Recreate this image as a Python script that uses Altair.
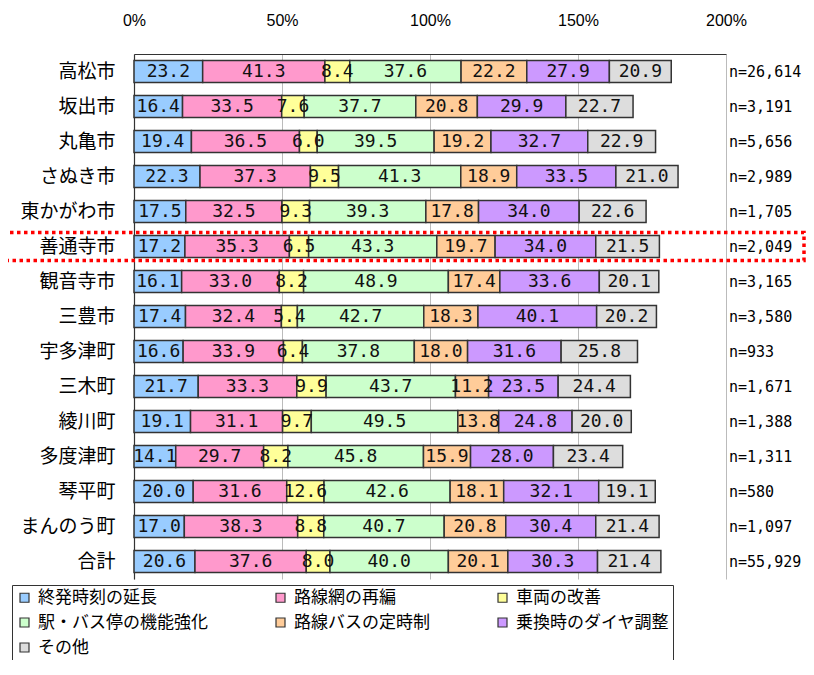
import altair as alt
import pandas as pd

areas = ["高松市", "坂出市", "丸亀市", "さぬき市", "東かがわ市", "善通寺市", "観音寺市",
         "三豊市", "宇多津町", "三木町", "綾川町", "多度津町", "琴平町", "まんのう町", "合計"]
n_labels = ["n=26,614", "n=3,191", "n=5,656", "n=2,989", "n=1,705", "n=2,049", "n=3,165",
            "n=3,580", "n=933", "n=1,671", "n=1,388", "n=1,311", "n=580", "n=1,097", "n=55,929"]
series = ["終発時刻の延長", "路線網の再編", "車両の改善", "駅・バス停の機能強化",
          "路線バスの定時制", "乗換時のダイヤ調整", "その他"]
colors = ["#99CCFF", "#FF99CC", "#FFFF99", "#CCFFCC", "#FFCC99", "#CC99FF", "#DDDDDD"]

v_end = [23.2, 16.4, 19.4, 22.3, 17.5, 17.2, 16.1, 17.4, 16.6, 21.7, 19.1, 14.1, 20.0, 17.0, 20.6]
v_net = [41.3, 33.5, 36.5, 37.3, 32.5, 35.3, 33.0, 32.4, 33.9, 33.3, 31.1, 29.7, 31.6, 38.3, 37.6]
v_veh = [8.4, 7.6, 6.0, 9.5, 9.3, 6.5, 8.2, 5.4, 6.4, 9.9, 9.7, 8.2, 12.6, 8.8, 8.0]
v_sta = [37.6, 37.7, 39.5, 41.3, 39.3, 43.3, 48.9, 42.7, 37.8, 43.7, 49.5, 45.8, 42.6, 40.7, 40.0]
v_punct = [22.2, 20.8, 19.2, 18.9, 17.8, 19.7, 17.4, 18.3, 18.0, 11.2, 13.8, 15.9, 18.1, 20.8, 20.1]
v_xfer = [27.9, 29.9, 32.7, 33.5, 34.0, 34.0, 33.6, 40.1, 31.6, 23.5, 24.8, 28.0, 32.1, 30.4, 30.3]
v_other = [20.9, 22.7, 22.9, 21.0, 22.6, 21.5, 20.1, 20.2, 25.8, 24.4, 20.0, 23.4, 19.1, 21.4, 21.4]

highlight_area = ["善通寺市"]
x_ticks = [0, 50, 100, 150, 200]

all_vals = [v_end, v_net, v_veh, v_sta, v_punct, v_xfer, v_other]
rows = []
for si, (s, vals) in enumerate(zip(series, all_vals)):
    for a, v in zip(areas, vals):
        rows.append({"area": a, "series": s, "idx": si, "value": v, "label": f"{v:.1f}"})
df = pd.DataFrame(rows)
df_n = pd.DataFrame({"area": areas, "n": n_labels})
df_h = pd.DataFrame({"area": highlight_area})

y_scale = alt.Scale(domain=areas, paddingInner=0, paddingOuter=0)
y_axis = alt.Axis(title=None, labelFont="Noto Sans CJK JP", labelFontSize=19, labelColor="#000",
                  labelPadding=19, ticks=False, domainColor="#333", domainWidth=1.2)
x_scale = alt.Scale(domain=[0, 200], nice=False)
x_axis = alt.Axis(orient="top", title=None, values=x_ticks, labelExpr="datum.value + '%'",
                  ticks=False, labelFlush=False, labelFont="Liberation Sans", labelFontSize=16,
                  labelColor="#000", labelPadding=26, domainColor="#333", domainWidth=1.2,
                  gridColor="#BBBBBB", gridWidth=1)

base = alt.Chart(df).transform_stack(
    stack="value", groupby=["area"], as_=["x0", "x1"],
    sort=[alt.SortField("idx", order="ascending")]
).transform_calculate(mid="(datum.x0 + datum.x1) / 2")

bars = base.mark_bar(size=22, stroke="#333", strokeWidth=1.5).encode(
    y=alt.Y("area:N", scale=y_scale, axis=y_axis, sort=areas),
    x=alt.X("x0:Q", scale=x_scale, axis=x_axis),
    x2="x1:Q",
    color=alt.Color("series:N", scale=alt.Scale(domain=series, range=colors),
                    legend=alt.Legend(
                        title=None, orient="none", legendX=-122, legendY=531,
                        direction="horizontal", values=series,
                        columns=3, columnPadding=64, rowPadding=7,
                        symbolType="square", symbolSize=81, symbolStrokeColor="#333",
                        symbolStrokeWidth=1.2, labelFont="Noto Sans CJK JP",
                        labelFontSize=17, labelColor="#000", labelOffset=5, labelLimit=400,
                        padding=4, strokeColor="#333", fillColor="#FFFFFF")),
    order=alt.Order("idx:Q"),
)

labels = base.mark_text(font="DejaVu Sans Mono", fontSize=18, color="#111",
                        align="center", baseline="middle").encode(
    y=alt.Y("area:N", sort=areas),
    x=alt.X("mid:Q"),
    text="label:N",
)

nlab = alt.Chart(df_n).mark_text(font="DejaVu Sans Mono", fontSize=15, color="#000",
                                 align="left", baseline="middle", dx=3).encode(
    y=alt.Y("area:N", sort=areas),
    x=alt.datum(200),
    text="n:N",
)

hl = alt.Chart(df_h).mark_bar(size=28, filled=False, stroke="#FF0000", strokeWidth=3.5,
                              strokeDash=[3.5, 3.5]).encode(
    y=alt.Y("area:N", sort=areas),
    x=alt.value(-131),
    x2=alt.value(670),
)

chart = alt.layer(bars, labels, nlab, hl).properties(
    width=592, height=525,
    autosize=alt.AutoSizeParams(type="none"),
    padding={"left": 126, "top": 46, "right": 80, "bottom": 81},
).configure_view(strokeWidth=0)

chart.save("out.html", embed_options={"renderer": "svg", "actions": False})
